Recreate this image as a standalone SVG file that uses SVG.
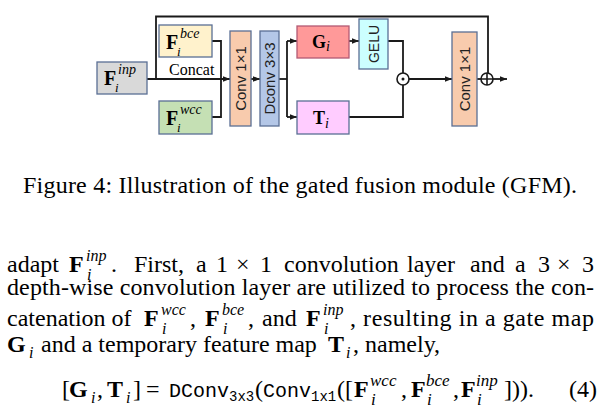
<svg xmlns="http://www.w3.org/2000/svg" width="616" height="416" viewBox="0 0 616 416">
<style>
.box{stroke:#5a6f94;stroke-width:1.3}
.ln{fill:none;stroke:#1a1a1a;stroke-width:1.8}
.lab{font-family:"Liberation Serif",serif;fill:#000}
.bf{font-weight:bold}
.it{font-style:italic}
.rot{font-family:"Liberation Sans","Open Sans",sans-serif;font-size:15px;fill:#222;text-anchor:middle;dominant-baseline:central}
.tx{font-family:"Liberation Serif","Times New Roman",serif;font-size:24px;fill:#000}
.sm{font-size:16px}
.eq{font-size:17px}
.mo{font-family:"Liberation Mono","DejaVu Sans Mono",monospace;fill:#000}
</style>
<defs>
<marker id="ah" viewBox="0 0 10 10" refX="10" refY="5" markerWidth="7" markerHeight="7" orient="auto" markerUnits="userSpaceOnUse">
<path d="M0,1 L10,5 L0,9 z" fill="#1a1a1a"/>
</marker>
</defs>
<rect width="616" height="416" fill="#fff"/>

<g id="connectors">
<path class="ln" d="M156,79 V16.5 H488 V73"/>
<path class="ln" d="M147,79 H230" marker-end="url(#ah)"/>
<path class="ln" d="M212,41 H221 V117 H212"/>
<path class="ln" d="M251,79 H260" marker-end="url(#ah)"/>
<path class="ln" d="M279,79 H287"/>
<path class="ln" d="M287,41 V117"/>
<path class="ln" d="M287,41 H297" marker-end="url(#ah)"/>
<path class="ln" d="M287,117 H297" marker-end="url(#ah)"/>
<path class="ln" d="M349,41 H359" marker-end="url(#ah)"/>
<path class="ln" d="M388,41 H403 V73"/>
<path class="ln" d="M349,117 H403 V85"/>
<path class="ln" d="M409,79 H452" marker-end="url(#ah)"/>
<path class="ln" d="M477,79 H481"/>
<path class="ln" d="M493,79 H507" marker-end="url(#ah)"/>
<text class="lab" x="169" y="75" font-size="16">Concat</text>
</g>

<g id="finp">
<rect class="box" x="97" y="62" width="50" height="32" fill="#d9d9d9"/>
<text class="lab bf" x="104" y="85" font-size="20">F</text>
<text class="lab it" x="118" y="74" font-size="14">inp</text>
<text class="lab it" x="115" y="92" font-size="13">i</text>
</g>

<g id="fbce">
<rect class="box" x="159" y="25" width="53" height="32" fill="#fff2cc"/>
<text class="lab bf" x="166" y="49" font-size="20">F</text>
<text class="lab it" x="180" y="38" font-size="14">bce</text>
<text class="lab it" x="177" y="56" font-size="13">i</text>
</g>

<g id="fwcc">
<rect class="box" x="159" y="101" width="53" height="33" fill="#c5e0b4"/>
<text class="lab bf" x="166" y="125" font-size="20">F</text>
<text class="lab it" x="180" y="114" font-size="14">wcc</text>
<text class="lab it" x="177" y="132" font-size="13">i</text>
</g>

<g id="conv1">
<rect class="box" x="230" y="31" width="21" height="95" fill="#f8cbad"/>
<text class="rot" transform="translate(240.5,78.5) rotate(-90)">Conv 1×1</text>
</g>

<g id="dconv">
<rect class="box" x="260" y="31" width="19" height="95" fill="#b4c7e7"/>
<text class="rot" transform="translate(269.5,78.5) rotate(-90)">Dconv 3×3</text>
</g>

<g id="gi">
<rect x="297" y="26" width="52" height="32" fill="#ff9999" stroke="#b35a74" stroke-width="1.3"/>
<text class="lab bf" x="312" y="48" font-size="18">G</text>
<text class="lab it" x="326" y="51" font-size="14">i</text>
</g>

<g id="ti">
<rect class="box" x="297" y="101" width="52" height="33" fill="#ffccff"/>
<text class="lab bf" x="313" y="124" font-size="18">T</text>
<text class="lab it" x="325" y="128" font-size="14">i</text>
</g>

<g id="gelu">
<rect class="box" x="359" y="19" width="29" height="50" fill="#ccffff"/>
<text class="rot" style="font-size:14px" transform="translate(373.5,44) rotate(-90)">GELU</text>
</g>

<g id="odot">
<circle cx="403" cy="79" r="6" fill="#fff" stroke="#1a1a1a" stroke-width="1.6"/>
<circle cx="403" cy="79" r="1.5" fill="#1a1a1a"/>
</g>

<g id="conv2">
<rect class="box" x="452" y="32" width="25" height="94" fill="#f8cbad"/>
<text class="rot" transform="translate(464.5,79) rotate(-90)">Conv 1×1</text>
</g>

<g id="oplus">
<circle cx="487" cy="79" r="6" fill="#fff" stroke="#1a1a1a" stroke-width="1.6"/>
<path d="M481,79 H493 M487,73 V85" stroke="#1a1a1a" stroke-width="1.6"/>
</g>

<text class="tx" x="23" y="193" textLength="554" lengthAdjust="spacing">Figure 4: Illustration of the gated fusion module (GFM).</text>

<!-- line 1 -->
<text class="tx" x="7" y="272">adapt</text>
<text class="tx bf" x="69" y="272">F</text>
<text class="tx it sm" x="86" y="261">inp</text>
<text class="tx it sm" x="87" y="280">i</text>
<text class="tx" x="111" y="272">.</text>
<text class="tx" x="134" y="272">First,</text>
<text class="tx" x="196" y="272">a</text>
<text class="tx" x="216" y="272">1</text>
<text class="tx" x="236" y="272">×</text>
<text class="tx" x="260" y="272">1</text>
<text class="tx" x="284" y="272">convolution</text>
<text class="tx" x="407" y="272">layer</text>
<text class="tx" x="470" y="272">and</text>
<text class="tx" x="515" y="272">a</text>
<text class="tx" x="538" y="272">3</text>
<text class="tx" x="557" y="272">×</text>
<text class="tx" x="582" y="272">3</text>

<!-- line 2 -->
<text class="tx" x="7" y="295" textLength="587" lengthAdjust="spacing">depth-wise convolution layer are utilized to process the con-</text>

<!-- line 3 -->
<text class="tx" x="7" y="326">catenation of</text>
<text class="tx bf" x="144" y="326">F</text>
<text class="tx it sm" x="161" y="315">wcc</text>
<text class="tx it sm" x="162" y="334">i</text>
<text class="tx" x="190" y="326">,</text>
<text class="tx bf" x="205" y="326">F</text>
<text class="tx it sm" x="222" y="315">bce</text>
<text class="tx it sm" x="223" y="334">i</text>
<text class="tx" x="248" y="326">,</text>
<text class="tx" x="262" y="326">and</text>
<text class="tx bf" x="306" y="326">F</text>
<text class="tx it sm" x="323" y="315">inp</text>
<text class="tx it sm" x="324" y="334">i</text>
<text class="tx" x="350" y="326" textLength="244" lengthAdjust="spacing">, resulting in a gate map</text>

<!-- line 4 -->
<text class="tx bf" x="7" y="352">G</text>
<text class="tx it sm" x="29" y="358">i</text>
<text class="tx" x="41" y="352">and a temporary feature map</text>
<text class="tx bf" x="328" y="352">T</text>
<text class="tx it sm" x="346" y="358">i</text>
<text class="tx" x="353" y="352">, namely,</text>

<!-- equation -->
<text class="tx" x="62" y="397">[</text>
<text class="tx bf" x="69" y="397">G</text>
<text class="tx it sm" x="91" y="403">i</text>
<text class="tx" x="97" y="397">,</text>
<text class="tx bf" x="107" y="397">T</text>
<text class="tx it sm" x="126" y="403">i</text>
<text class="tx" x="133" y="397">]</text>
<text class="tx" x="146" y="397">=</text>
<text class="mo" x="169" y="397" font-size="20">DConv</text>
<text class="mo" x="229" y="401" font-size="14">3x3</text>
<text class="tx" x="255" y="397">(</text>
<text class="mo" x="263" y="397" font-size="20">Conv</text>
<text class="mo" x="311" y="401" font-size="14">1x1</text>
<text class="tx" x="337" y="397">([</text>
<text class="tx bf" x="354" y="397">F</text>
<text class="tx it eq" x="370" y="386">wcc</text>
<text class="tx it eq" x="371" y="405">i</text>
<text class="tx" x="401" y="397">,</text>
<text class="tx bf" x="411" y="397">F</text>
<text class="tx it eq" x="426" y="386">bce</text>
<text class="tx it eq" x="427" y="405">i</text>
<text class="tx" x="453" y="397">,</text>
<text class="tx bf" x="461" y="397">F</text>
<text class="tx it eq" x="476" y="386">inp</text>
<text class="tx it eq" x="477" y="405">i</text>
<text class="tx" x="504" y="397">])).</text>
<text class="tx" x="569" y="397">(4)</text>
</svg>
